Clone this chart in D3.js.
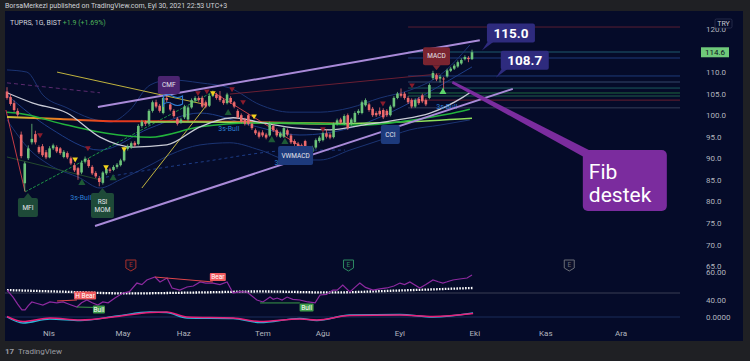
<!DOCTYPE html>
<html><head><meta charset="utf-8">
<script src="https://cdn.jsdelivr.net/npm/d3@7"></script>
<style>
html,body{margin:0;padding:0;background:#1f2024;}
svg{display:block;font-family:Roboto,"Noto Sans",sans-serif;}
</style></head><body>
<svg id="c" width="750" height="361"></svg>
<script>
// ---------------- DATA ----------------
const monthLabels = ["Nis","May","Haz","Tem","Ağu","Eyl","Eki","Kas","Ara"];
const monthBars   = [11.8,32.7,49.8,72.1,89,110.7,131.8,151.8,173];
const priceTicks  = [120,110,105,100,95,90,85,80,75,70,65];
const lastPrice = 114.6;

// daily candles [open, high, low, close]
const ohlc = [
[105.5,106.5,103.6,104.0],[104.2,104.8,102.2,102.6],[102.8,103.4,100.8,101.2],[101.0,101.6,99.6,100.1],
[95.5,96.2,90.0,90.5],[84.2,89.2,82.4,88.8],[90.0,93.0,89.6,92.3],[93.7,98.0,93.2,94.5],
[95.6,96.4,93.2,93.7],[92.6,93.0,91.0,91.4],[92.8,93.3,90.3,90.7],[91.4,91.9,89.8,90.2],
[90.2,92.8,90.0,92.3],[92.3,93.4,91.9,93.0],[92.6,93.0,91.2,91.6],[92.3,92.6,90.8,91.2],
[90.3,91.9,90.0,91.5],[91.2,91.6,89.8,90.2],[90.0,90.4,88.4,88.8],[88.4,88.9,86.8,87.2],
[87.7,88.0,85.0,86.2],[86.7,89.5,86.3,89.0],[89.2,90.4,88.8,89.9],[89.6,90.0,87.8,88.2],
[88.0,88.4,86.1,86.5],[86.6,87.0,85.4,85.8],[85.4,85.9,83.5,84.5],[84.3,87.0,83.9,86.7],
[86.5,88.0,86.1,87.5],[87.4,87.8,86.6,87.1],[87.3,88.4,87.0,88.0],[88.0,88.9,87.6,88.5],
[88.4,89.9,88.1,89.5],[89.5,92.6,89.2,92.2],[92.2,93.2,91.8,92.8],[92.5,93.9,92.2,93.5],
[93.6,94.0,92.6,93.0],[93.3,97.9,93.0,97.5],[97.5,98.9,97.1,98.5],[98.4,98.8,97.5,98.0],
[98.0,101.4,97.7,101.0],[101.0,103.4,100.6,103.0],[103.0,103.6,101.6,102.0],[102.2,102.6,100.6,101.0],
[100.5,104.4,100.2,104.0],[104.0,104.5,103.0,103.5],[102.5,103.0,100.9,101.3],[101.0,101.4,99.4,99.8],
[99.2,99.6,97.6,98.0],[98.3,99.4,98.0,99.0],[99.5,102.4,99.1,102.0],[99.0,102.2,98.6,101.8],
[101.8,103.9,101.5,103.5],[103.4,104.4,103.0,104.0],[104.0,104.4,103.1,103.5],[104.0,104.5,101.7,102.0],
[103.0,103.4,101.6,102.0],[102.2,104.9,101.9,104.5],[104.5,105.7,104.2,105.0],[104.8,105.2,103.6,104.0],
[104.5,105.6,103.1,103.5],[103.5,103.9,102.4,102.8],[102.8,105.2,102.5,104.8],[104.0,104.4,102.6,103.0],
[103.0,103.3,101.6,102.0],[101.0,101.4,99.1,99.5],[100.0,100.4,98.1,98.5],[99.0,99.4,97.6,98.0],
[100.0,100.3,97.6,98.0],[98.0,98.3,96.6,97.0],[96.5,96.9,95.4,95.8],[96.0,96.4,94.6,95.0],
[96.0,96.5,94.9,95.3],[95.5,95.9,94.4,94.8],[95.3,98.5,95.0,98.1],[97.5,97.9,96.1,96.5],
[96.5,96.9,94.9,95.3],[95.0,96.2,94.7,95.8],[95.0,97.4,94.7,97.0],[96.5,96.9,95.1,95.5],
[95.3,95.7,93.3,93.7],[94.0,94.4,92.9,93.3],[93.4,93.8,92.1,92.5],[93.0,93.4,92.4,92.8],
[94.0,94.3,91.6,92.0],[92.5,92.8,90.9,91.4],[91.5,92.9,91.1,92.5],[92.5,94.6,92.2,94.2],
[94.0,95.2,93.6,94.8],[94.2,96.2,93.9,95.8],[95.8,96.8,94.6,95.0],[95.5,95.9,94.4,94.8],
[94.9,98.3,94.6,97.9],[98.0,99.2,97.6,98.8],[99.0,99.4,97.9,98.3],[98.0,100.2,97.7,99.8],
[100.0,100.4,96.6,97.0],[98.0,99.4,97.6,99.0],[98.4,100.9,98.0,100.5],[100.5,101.4,100.1,101.0],
[100.5,103.4,100.2,103.0],[102.3,103.9,102.0,103.5],[102.5,102.9,100.8,101.2],[101.5,101.9,99.6,100.0],
[100.5,100.9,99.6,100.0],[101.0,101.8,99.8,100.2],[101.2,101.6,99.1,99.5],[101.0,101.4,99.6,100.0],
[100.0,102.4,99.7,102.0],[102.0,104.4,101.7,104.0],[104.0,105.4,103.7,105.0],[105.0,106.2,104.1,104.5],
[105.0,105.4,103.6,104.0],[104.0,104.4,102.6,103.0],[103.5,103.9,101.6,102.0],[102.0,103.9,101.7,103.5],
[103.8,104.2,102.4,102.8],[104.6,105.0,102.8,103.2],[103.5,103.9,102.1,102.5],[104.0,107.4,103.7,107.0],
[108.6,110.3,108.2,109.8],[109.3,109.7,107.9,108.3],[108.5,109.3,107.6,108.9],[108.5,108.9,105.4,108.3],
[109.0,110.8,108.7,110.4],[110.3,111.2,110.0,110.8],[110.8,111.9,110.5,111.5],[111.3,112.7,111.0,112.3],
[112.0,113.2,111.7,112.8],[113.0,113.9,112.7,113.5],[113.3,113.7,112.3,113.0],[113.0,115.2,112.8,114.6]
];

// moving averages / bands  [bar, price]
const maWhite = [[0,105.2],[7.3,102.8],[16.9,100.5],[26.2,94.9],[35.5,92.6],[45,93.1],[54.4,97.3],[63.7,99.4],[72.1,98.2],[81.7,97.0],[91,96.6],[100.3,97.7],[109.9,98.9],[119.2,100.5],[128.5,104.2],[130.4,105.2]];
const maGreen = [[0,100.7],[2.8,100.5],[16.9,97.7],[28,95.8],[40.3,94.9],[54.4,97.3],[68.5,98.2],[81.7,98.2],[100.3,97.7],[114.4,98.9],[124,100.2],[130.4,101.4]];
const maLime  = [[38.9,98.4],[54.4,98.4],[71.3,98.2],[91,98.0],[110.7,98.4],[131,99.3]];
const emaRed  = [[0,99.6],[15,99.1],[31.8,98.6],[48.7,98.6],[68.5,98.4],[82.5,98.2],[95.2,98.0]];
const bbUpper = [[0,110.5],[5.6,110],[10.1,104.7],[16.9,101.7],[23.4,99.3],[29,98.4],[34.6,101.2],[40.3,107],[45.9,108.2],[54.4,107.5],[62.8,106.3],[71.3,102.4],[79.7,100.7],[88.2,100.7],[96.6,101.7],[105.1,104],[113.5,105.8],[122,109.3],[130.4,116.3]];
const bbBasis = [[0,104.7],[12.1,97],[26.2,91.9],[40.3,97],[54.4,100.5],[68.5,97.7],[82.5,95.4],[96.6,97],[110.7,101.7],[124.8,108.2],[131,111.2]];
const bbLower = [[0,98.9],[6.5,91.9],[12.1,88.4],[20.6,85.4],[26.2,83.1],[31.8,85],[40.3,88.4],[45.9,90.8],[54.4,93.1],[62.8,93.6],[71.3,91.9],[79.7,89.6],[88.2,89.6],[96.6,91.9],[105.1,94.2],[113.5,96.6],[122,97.7],[130.4,98.9]];
const dashedBlue = [[26.2,85.4],[54.4,89.1],[82.5,91.9],[95.2,91.9]];

// drawn trend lines [bar, price] pairs
const channelUpper = [[25.6,101.9],[133.2,117.4]];
const channelLower = [[24.8,74.3],[142.5,106.1]];
const yellowA = [[14.1,110],[56.3,102.4]];
const yellowB = [[38,83.1],[56.3,102.4]];
const greenDiv = [[5.1,82.2],[58,105.4]];
const redDivA = [[-0.3,101.2],[5.1,82.2]];
const redDivB = [[58,105.4],[84.5,91.9]];
const darkGreenLine = [[0,90.3],[26.2,85]];
const purpleDash = [[0,107.5],[26.2,105.2]];
const maroonLine = [[62.8,104.9],[122,109.6]];

// horizontal levels (price) from bar 113
const fibLevels = [120.46,114.66,113.27,109.1,107.7,106.3,105.15,104.45,103.5,101.7];

// signal markers [bar, price]
const sellMarks   = [[9.3,95.4],[22.8,92.4],[53.8,105.2],[56.3,105.6],[63.4,106.1],[66.5,103.1],[89,96.8],[105.9,102.8],[114.1,107]];
const yellowMarks = [[19.2,89.8],[27.9,88],[33,92.2],[58,105.2],[69.6,99.8]];
const buyMarks    = [[21.1,84.3],[29.9,85.4],[62.3,100.5],[74.6,94.2],[78.3,93.8],[122.8,105.4]];
const bullText    = [[20.8,80.8],[62.5,97],[78.3,89.1],[123.9,102.1]];

// lower pane
const oscLine = [[0,47.1],[1.7,42.1],[3,37],[4.2,32.9],[5.1,32.9],[6,36],[7,38.6],[8.5,37.5],[10.1,36.4],[12.1,38.6],[14,38],[15.8,38.6],[17.5,37],[19.7,35],[21,38],[22.5,40],[24,38],[25.6,36.4],[27,38.6],[28.5,38],[30.4,41.4],[32.7,45],[34.5,46],[36.6,52.1],[38,51],[39.4,54.3],[41.7,56.4],[43.1,52.9],[45.1,55.7],[46.5,48.6],[48.7,47.1],[50.7,49.3],[52.5,50],[54.4,52.9],[56,52],[58,52.1],[60,51],[62,52.9],[63.7,45],[65.5,46],[67.6,45.7],[70.4,40],[72.1,38.6],[74.1,42.1],[75,40.5],[76.1,41.4],[77.5,40],[78.9,42.1],[80.5,40.5],[82.5,40],[84.8,38.6],[86.8,37.9],[88.2,43.6],[90,44],[91.8,47.1],[93,47],[94.6,50.7],[96.6,45.7],[98,49],[99.4,52.1],[101,49],[103.1,47.1],[105,48],[107,48.6],[109,50],[110.7,52.1],[112,51],[113.5,52.9],[116.3,48.6],[118,51],[120,54.3],[121.5,53],[122.8,52.1],[124,53],[125.6,54.3],[127.5,55],[129.6,55.7],[131,57.9]];
const oscBase = [[0,47.1],[15,46],[34,44.7],[54.4,45.4],[71.3,46.1],[91,45.4],[110.7,46.8],[131.3,48.6]];
const macdLine = [[0,0],[4.5,-0.6],[12.1,-0.2],[20.6,-0.35],[31,0.1],[40.3,0.5],[45,0.45],[50.7,-0.1],[63.7,-0.15],[71.3,-0.55],[82.5,-0.15],[87.3,-0.35],[96.6,0.2],[110.7,0.25],[120,0],[131.3,0.4]];
const signalLine = [[0,0.05],[4.5,-0.45],[12.1,-0.1],[20.6,-0.3],[31,0.05],[40.3,0.45],[45,0.5],[50.7,0],[63.7,-0.1],[71.3,-0.45],[82.5,-0.2],[87.3,-0.3],[96.6,0.15],[110.7,0.2],[120,0.05],[131.3,0.35]];
const divRed = [[[14.1,39.3],[19.7,40]],[[41.7,56.4],[58,52.9]]];
const divGreen = [[[19.7,35],[26.2,34.6]],[[71.3,37.9],[82.5,37.9]]];

// ---------------- DRAW ----------------
const svg = d3.select("#c");
const W = 750, H = 361;
svg.append("rect").attr("width",W).attr("height",H).attr("fill","#1f2024");
svg.append("rect").attr("x",5).attr("y",11).attr("width",738).attr("height",330).attr("fill","#050b29");
svg.append("text").attr("x",5).attr("y",8).attr("font-size",7).attr("fill","#cfd2d8")
  .text("BorsaMerkezi published on TradingView.com, Eyl 30, 2021 22:53 UTC+3");

const x = d3.scaleLinear().domain([0,131]).range([7,472]);
const y = d3.scaleLinear().domain([120,65]).range([29,266]);
const oscY = d3.scaleLinear().domain([60,40]).range([272,300]);
const macdY = d3.scaleLinear().domain([1,-1]).range([307,327]);

const defs = svg.append("defs");
defs.append("clipPath").attr("id","mainClip").append("rect").attr("x",5).attr("y",11).attr("width",693).attr("height",258);
defs.append("clipPath").attr("id","lowClip").append("rect").attr("x",5).attr("y",258).attr("width",693).attr("height",72);
defs.append("clipPath").attr("id","axClip").append("rect").attr("x",698).attr("y",269).attr("width",45).attr("height",60);
const grad = defs.append("linearGradient").attr("id","emaGrad").attr("gradientUnits","userSpaceOnUse")
  .attr("x1",x(0)).attr("x2",x(95.2)).attr("y1",0).attr("y2",0);
[[0,"#c9c23a"],[0.12,"#e88a22"],[0.3,"#e53a1e"],[0.55,"#e2351c"],[0.75,"#e8742a"],[1,"#d8c03a"]]
  .forEach(s=>grad.append("stop").attr("offset",s[0]).attr("stop-color",s[1]));

const main = svg.append("g").attr("clip-path","url(#mainClip)");
const line = (ys)=>d3.line().x(d=>x(d[0])).y(d=>ys(d[1]));
const smooth = (ys)=>d3.line().x(d=>x(d[0])).y(d=>ys(d[1])).curve(d3.curveMonotoneX);

// horizontal fib levels
const fibColors = ["#5a1e33","#1f5a6e","#1e3b7a","#1e3b7a","#34466a","#1b5a5c","#1e6a3e","#1f5f4a","#6a1f30","#353d58"];
main.selectAll(".fib").data(fibLevels).join("line")
  .attr("x1",x(113)).attr("x2",680).attr("y1",d=>y(d)).attr("y2",d=>y(d))
  .attr("stroke",(d,i)=>fibColors[i]).attr("stroke-width",1);

// bands
[[bbUpper,"#1b3473"],[bbBasis,"#1d3c86"],[bbLower,"#1b3473"]].forEach(([d,c])=>
  main.append("path").datum(d).attr("d",smooth(y)).attr("fill","none").attr("stroke",c).attr("stroke-width",1));
main.append("path").datum(dashedBlue).attr("d",smooth(y)).attr("fill","none").attr("stroke","#1d3c86").attr("stroke-dasharray","3,3");

// trend lines thin
main.append("path").datum(purpleDash).attr("d",line(y)).attr("fill","none").attr("stroke","#5a2a6e").attr("stroke-dasharray","4,3");
main.append("path").datum(maroonLine).attr("d",line(y)).attr("fill","none").attr("stroke","#6a1f33").attr("stroke-width",1);
main.append("path").datum(darkGreenLine).attr("d",line(y)).attr("fill","none").attr("stroke","#244a2e").attr("stroke-width",1);
[yellowA,yellowB].forEach(d=>main.append("path").datum(d).attr("d",line(y)).attr("fill","none").attr("stroke","#d6c640").attr("stroke-width",0.9));
main.append("path").datum(greenDiv).attr("d",line(y)).attr("fill","none").attr("stroke","#1fa34a").attr("stroke-width",0.9).attr("stroke-dasharray","3,1.5");
[redDivA,redDivB].forEach(d=>main.append("path").datum(d).attr("d",line(y)).attr("fill","none").attr("stroke","#d9424a").attr("stroke-width",0.9));

// moving averages
main.append("path").datum(emaRed).attr("d",smooth(y)).attr("fill","none").attr("stroke","url(#emaGrad)").attr("stroke-width",2);
main.append("path").datum(maLime).attr("d",smooth(y)).attr("fill","none").attr("stroke","#8ee05a").attr("stroke-width",1.5);
main.append("path").datum(maGreen).attr("d",smooth(y)).attr("fill","none").attr("stroke","#22b33c").attr("stroke-width",1.5);
main.append("path").datum(maWhite).attr("d",smooth(y)).attr("fill","none").attr("stroke","#c9cbd6").attr("stroke-width",1.3);

// candles
const up = "#6cc47a", dn = "#ec6a6c";
const cg = main.append("g");
cg.selectAll(".wk").data(ohlc).join("line")
  .attr("x1",(d,i)=>x(i)).attr("x2",(d,i)=>x(i)).attr("y1",d=>y(d[1])).attr("y2",d=>y(d[2]))
  .attr("stroke",d=>d[3]>=d[0]?up:dn).attr("stroke-width",0.8);
cg.selectAll(".bd").data(ohlc).join("rect")
  .attr("x",(d,i)=>x(i)-1.3).attr("width",2.6)
  .attr("y",d=>y(Math.max(d[0],d[3]))).attr("height",d=>Math.max(0.8,Math.abs(y(d[0])-y(d[3]))))
  .attr("fill",d=>d[3]>=d[0]?up:dn);

// markers
const tri = d3.symbol(d3.symbolTriangle).size(14);
main.selectAll(".sm").data(sellMarks).join("path").attr("d",tri)
  .attr("transform",d=>`translate(${x(d[0])},${y(d[1])}) rotate(180)`).attr("fill","#8a1c2c");
main.selectAll(".ym").data(yellowMarks).join("path").attr("d",tri)
  .attr("transform",d=>`translate(${x(d[0])},${y(d[1])}) rotate(180)`).attr("fill","#f2d21c");
main.selectAll(".bm").data(buyMarks).join("path").attr("d",d3.symbol(d3.symbolTriangle).size(22))
  .attr("transform",d=>`translate(${x(d[0])},${y(d[1])})`).attr("fill",(d,i)=>i===5?"#5bd46a":"#1d5a36");
main.selectAll(".bt").data(bullText).join("text")
  .attr("x",d=>x(d[0])).attr("y",d=>y(d[1])).attr("text-anchor","middle").attr("dy","0.35em")
  .attr("font-size",7).attr("fill","#2d7fd6").text("3s-Bull");

// channel lines
[channelUpper,channelLower].forEach(d=>main.append("path").datum(d).attr("d",line(y)).attr("fill","none")
  .attr("stroke","#a98ad8").attr("stroke-width",2));

// indicator label boxes
function labelBox(bar, price, w, h, fill, lines, ptr){
  const cx=x(bar), cy=y(price);
  const g=main.append("g");
  if(ptr==="up") g.append("path").attr("d",`M${cx-4},${cy-h/2} L${cx},${cy-h/2-5} L${cx+4},${cy-h/2} Z`).attr("fill",fill);
  if(ptr==="down") g.append("path").attr("d",`M${cx-4},${cy+h/2} L${cx},${cy+h/2+5} L${cx+4},${cy+h/2} Z`).attr("fill",fill);
  g.append("rect").attr("x",cx-w/2).attr("y",cy-h/2).attr("width",w).attr("height",h).attr("rx",2).attr("fill",fill);
  lines.forEach((t,i)=>g.append("text").attr("x",cx).attr("y",cy+(i-(lines.length-1)/2)*8).attr("dy","0.35em")
    .attr("text-anchor","middle").attr("font-size",6.5).attr("fill","#e6e6ee").text(t));
}
labelBox(5.9,78.6,20,19,"#1e4a38",["MFI"],"up");
labelBox(26.9,79.05,23,25,"#1e4a38",["RSI","MOM"],"up");
labelBox(45.6,107,22,18,"#4b2470",["CMF"],null);
labelBox(81.3,90.65,35,19,"#1d3a7c",["VWMACD"],null);
labelBox(108,95.5,19,19,"#1d3a7c",["CCI"],null);
labelBox(121,113.7,27,18,"#7a2430",["MACD"],"down");
// flag outline
main.append("path").attr("d",()=>{const a=x(44.1),b=y(101.9);return `M${a},${b} L${a},${b-12} M${a},${b-11} q5,-3 9,0 q5,3 10,0 l0,8 q-5,3 -10,0 q-4,-3 -9,0`;})
  .attr("fill","none").attr("stroke","#2f7fd6").attr("stroke-width",1.1);

// price callouts
const callouts = [[133.8,115.0],[137.7,108.7]];
callouts.forEach(([b,p])=>{
  const tx=x(b), ty=y(p);
  svg.append("path").attr("d",`M${tx},${ty} L${tx+6},${ty-9} L${tx+12},${ty-9} Z`).attr("fill","#2e2b7e");
  svg.append("rect").attr("x",tx+5).attr("y",ty-27).attr("width",48).attr("height",19).attr("rx",2).attr("fill","#2e2b7e");
  svg.append("text").attr("x",tx+29).attr("y",ty-17.5).attr("dy","0.36em").attr("text-anchor","middle")
    .attr("font-size",13.5).attr("font-weight","bold").attr("fill","#ffffff").text(p.toFixed(1));
});
// Fib destek callout
(function(){
  const tx=x(125.6), ty=y(107.7);
  svg.append("path").attr("d",`M${tx},${ty-1} L${tx+136},${ty+68} L${tx+131},${ty+75} L${tx-1},${ty+1.5} Z`).attr("fill","#7b2c9e");
  svg.append("rect").attr("x",tx+130).attr("y",ty+68).attr("width",84).attr("height",61).attr("rx",5).attr("fill","#7b2c9e");
  svg.append("text").attr("x",tx+136).attr("y",ty+97).attr("font-size",21).attr("fill","#ffffff").text("Fib");
  svg.append("text").attr("x",tx+136).attr("y",ty+120).attr("font-size",21).attr("fill","#ffffff").text("destek");
})();

// ---------- lower pane ----------
const low = svg.append("g").attr("clip-path","url(#lowClip)");
low.append("line").attr("x1",5).attr("x2",680).attr("y1",oscY(45)).attr("y2",oscY(45)).attr("stroke","#3a3f55").attr("stroke-width",1);
low.append("line").attr("x1",5).attr("x2",680).attr("y1",macdY(0)).attr("y2",macdY(0)).attr("stroke","#1b2d5a").attr("stroke-width",1);
low.append("path").datum(oscBase).attr("d",smooth(oscY)).attr("fill","none").attr("stroke","#ffffff")
  .attr("stroke-width",2.3).attr("stroke-dasharray","1.6,1.3");
low.append("path").datum(oscLine).attr("d",line(oscY)).attr("fill","none").attr("stroke","#8e2aa0").attr("stroke-width",1.2);
low.append("path").datum(macdLine).attr("d",smooth(macdY)).attr("fill","none").attr("stroke","#29b6d8").attr("stroke-width",1.4);
low.append("path").datum(signalLine).attr("d",smooth(macdY)).attr("fill","none").attr("stroke","#e91e78").attr("stroke-width",1.4);
divRed.forEach(d=>low.append("path").datum(d).attr("d",line(oscY)).attr("stroke","#e0454a").attr("stroke-width",1));
divGreen.forEach(d=>low.append("path").datum(d).attr("d",line(oscY)).attr("stroke","#3a9a48").attr("stroke-width",1));
function divLabel(bar,val,w,txt,fill){
  low.append("rect").attr("x",x(bar)-w/2).attr("y",oscY(val)-4).attr("width",w).attr("height",8).attr("rx",1).attr("fill",fill);
  low.append("text").attr("x",x(bar)).attr("y",oscY(val)).attr("dy","0.35em").attr("text-anchor","middle")
    .attr("font-size",6.5).attr("fill","#ffffff").text(txt);
}
divLabel(22,43.2,22,"H Bear","#f05a5e");
divLabel(59.4,56.4,16,"Bear","#f05a5e");
divLabel(84.4,34.6,14,"Bull","#3f9c4a");
divLabel(25.9,33.2,12,"Bull","#3f9c4a");
// earnings shields
[[34.9,"#a8302c"],[96.2,"#2d8a63"],[158.4,"#6b6e78"]].forEach(([b,c])=>{
  const cx=x(b), cy=oscY(65);
  low.append("path").attr("d",`M${cx-5},${cy-5} L${cx+5},${cy-5} L${cx+5},${cy+3} L${cx},${cy+6} L${cx-5},${cy+3} Z`)
    .attr("fill","#0a0f2a").attr("stroke",c).attr("stroke-width",1);
  low.append("text").attr("x",cx).attr("y",cy).attr("dy","0.3em").attr("text-anchor","middle").attr("font-size",6.5).attr("fill",c).text("E");
});

// ---------- axes ----------
const ax = svg.append("g").attr("transform","translate(704,0)")
  .call(d3.axisRight(y).tickValues(priceTicks).tickSize(0).tickFormat(d3.format(".1f")));
ax.select(".domain").remove();
ax.selectAll("text").attr("font-size",8).attr("fill","#b2b5be").attr("font-family","Roboto,sans-serif").attr("x",2);

const lowAx = svg.append("g").attr("clip-path","url(#axClip)");
[[oscY(60),"60.00"],[oscY(40),"40.00"],[macdY(0),"0.0000"]].forEach(([yy,t])=>
  lowAx.append("text").attr("x",706).attr("y",yy).attr("dy","0.32em").attr("font-size",8).attr("fill","#b2b5be").text(t));

// last price label
svg.append("rect").attr("x",701).attr("y",y(lastPrice)-5).attr("width",28).attr("height",10).attr("fill","#6fc97a");
svg.append("text").attr("x",715).attr("y",y(lastPrice)).attr("dy","0.35em").attr("text-anchor","middle")
  .attr("font-size",8).attr("fill","#0b1020").text(lastPrice.toFixed(1));
// TRY
svg.append("rect").attr("x",715).attr("y",19).attr("width",17).attr("height",9).attr("rx",1.5).attr("fill","#050b29").attr("stroke","#3b4060").attr("stroke-width",0.6);
svg.append("text").attr("x",723.5).attr("y",23.5).attr("dy","0.35em").attr("text-anchor","middle").attr("font-size",7).attr("fill","#c5c8d2").text("TRY");

// time axis
const tx = svg.append("g");
tx.selectAll("text").data(monthLabels).join("text")
  .attr("x",(d,i)=>x(monthBars[i])).attr("y",333).attr("dy","0.35em").attr("text-anchor","middle")
  .attr("font-size",8).attr("fill","#b2b5be").text(d=>d);

// symbol header
const hd = svg.append("text").attr("x",10).attr("y",25).attr("font-size",7);
hd.append("tspan").attr("fill","#d1d4dc").text("TUPRS, 1G, BIST  ");
hd.append("tspan").attr("fill","#4fb35a").text("+1.9 (+1.69%)");

// footer
svg.append("text").attr("x",5).attr("y",354).attr("font-size",8).attr("font-weight","bold").attr("fill","#9a9ca3").text("17");
svg.append("text").attr("x",18).attr("y",354).attr("font-size",8).attr("fill","#9a9ca3").text("TradingView");
</script>
</body></html>
